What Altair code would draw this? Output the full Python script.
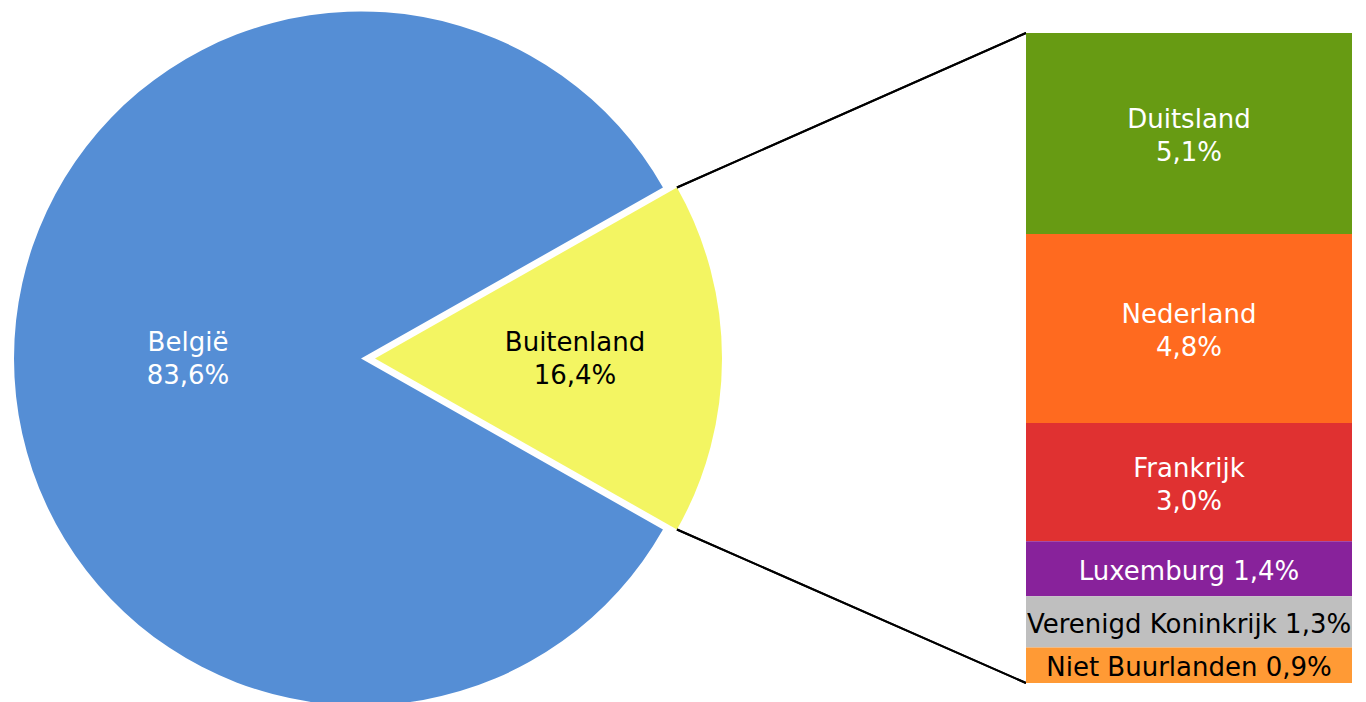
import math
import altair as alt
import pandas as pd

# ---------------- data ----------------
pie_names = ["Buitenland", "België"]
pie_values = [16.4, 83.6]

bar_names = ["Duitsland", "Nederland", "Frankrijk", "Luxemburg",
             "Verenigd Koninkrijk", "Niet Buurlanden"]
bar_values = [5.1, 4.8, 3.0, 1.4, 1.3, 0.9]

pie_colors = ["#F3F562", "#558ED5"]
bar_colors = ["#679B13", "#FF6A1F", "#E03131", "#88229B", "#BFBFBF", "#FF9A35"]
dark_labels = ["Buitenland", "Verenigd Koninkrijk", "Niet Buurlanden"]
TWO_LINE_MIN = 2.0


def pct(v):
    return f"{v:.1f}".replace(".", ",") + "%"


pie_df = pd.DataFrame({
    "name": pie_names,
    "value": pie_values,
    "label": [f"{n}\n{pct(v)}" for n, v in zip(pie_names, pie_values)],
})
bar_df = pd.DataFrame({
    "name": bar_names,
    "value": bar_values,
    "label": [f"{n}\n{pct(v)}" if v >= TWO_LINE_MIN else f"{n} {pct(v)}"
              for n, v in zip(bar_names, bar_values)],
})

# ---------------- layout (pixels, chart coordinates) ----------------
W, H = 1350, 694
R = 347
CX_MAIN, CX_EXPL, CY = 353, 367, 350.5
LABEL_R_MAIN, LABEL_R_EXPL = 173, 200
BAR_X0, BAR_X1 = 1018, 1344
BAR_TOP, BAR_BOTTOM = 25, 675
FONT = "DejaVu Sans"
FS = 26
LH = 33

pie_total = sum(pie_values)
bar_total = sum(bar_values)
half = math.pi * pie_values[0] / pie_total
start = math.pi / 2 - half

color_scale = alt.Scale(domain=pie_names + bar_names, range=pie_colors + bar_colors)
theta_scale = alt.Scale(domain=[0, pie_total], range=[start, start + 2 * math.pi], nice=False, zero=True)
y_scale = alt.Scale(domain=[0, bar_total], range=[BAR_TOP, BAR_BOTTOM], nice=False, zero=True)

text_color = alt.condition(
    alt.FieldOneOfPredicate(field="name", oneOf=dark_labels),
    alt.value("black"), alt.value("white"))

pie_base = (alt.Chart(pie_df)
            .transform_window(idx="row_number()")
            .transform_stack(stack="value", groupby=[], as_=["t0", "t1"],
                             sort=[alt.SortField("idx")])
            .transform_calculate(tm="(datum.t0 + datum.t1) / 2"))

main = pie_base.transform_filter(alt.datum.name == pie_names[1])
expl = pie_base.transform_filter(alt.datum.name == pie_names[0])


def arc(base, cx):
    return base.mark_arc(radius=R).encode(
        theta=alt.Theta("t0:Q", scale=theta_scale),
        theta2="t1:Q",
        color=alt.Color("name:N", scale=color_scale, legend=None),
        x=alt.value(cx), y=alt.value(CY))


def arc_text(base, cx, r):
    return base.mark_text(radius=r, lineBreak="\n", font=FONT, fontSize=FS,
                          align="center", baseline="middle", lineHeight=LH,
                          dy=-16).encode(
        theta=alt.Theta("tm:Q", scale=theta_scale),
        text="label:N",
        color=text_color,
        x=alt.value(cx), y=alt.value(CY))


# connector lines from exploded slice corners to the bar
px = CX_EXPL + R * math.cos(half)
py_top = CY - R * math.sin(half)
py_bot = CY + R * math.sin(half)
conn_top = alt.Chart(pie_df).mark_rule(color="black", strokeWidth=2).encode(
    x=alt.value(px), y=alt.value(py_top), x2=alt.value(BAR_X0), y2=alt.value(BAR_TOP))
conn_bot = alt.Chart(pie_df).mark_rule(color="black", strokeWidth=2).encode(
    x=alt.value(px), y=alt.value(py_bot), x2=alt.value(BAR_X0), y2=alt.value(BAR_BOTTOM))

bar_base = (alt.Chart(bar_df)
            .transform_window(idx="row_number()")
            .transform_stack(stack="value", groupby=[], as_=["y0", "y1"],
                             sort=[alt.SortField("idx")])
            .transform_calculate(ym="(datum.y0 + datum.y1) / 2"))

bars = bar_base.mark_rect().encode(
    x=alt.value(BAR_X0), x2=alt.value(BAR_X1),
    y=alt.Y("y0:Q", scale=y_scale, axis=None), y2="y1:Q",
    color=alt.Color("name:N", scale=color_scale, legend=None))


def bar_text(base, dy):
    return base.mark_text(lineBreak="\n", font=FONT, fontSize=FS,
                          align="center", baseline="middle", lineHeight=LH,
                          dy=dy).encode(
        x=alt.value((BAR_X0 + BAR_X1) / 2),
        y=alt.Y("ym:Q", scale=y_scale, axis=None),
        text="label:N",
        color=text_color)


bar_text_two = bar_text(bar_base.transform_filter(alt.datum.value >= TWO_LINE_MIN), -13)
bar_text_one = bar_text(bar_base.transform_filter(alt.datum.value < TWO_LINE_MIN), 3)

chart = alt.layer(
    arc(main, CX_MAIN), arc(expl, CX_EXPL), conn_top, conn_bot,
    bars, arc_text(main, CX_MAIN, LABEL_R_MAIN), arc_text(expl, CX_EXPL, LABEL_R_EXPL),
    bar_text_two, bar_text_one,
).properties(
    width=W, height=H, padding=0, autosize="none", background="white"
).configure_view(stroke=None)

chart.save("out.html", embed_options={"renderer": "svg", "actions": False})
